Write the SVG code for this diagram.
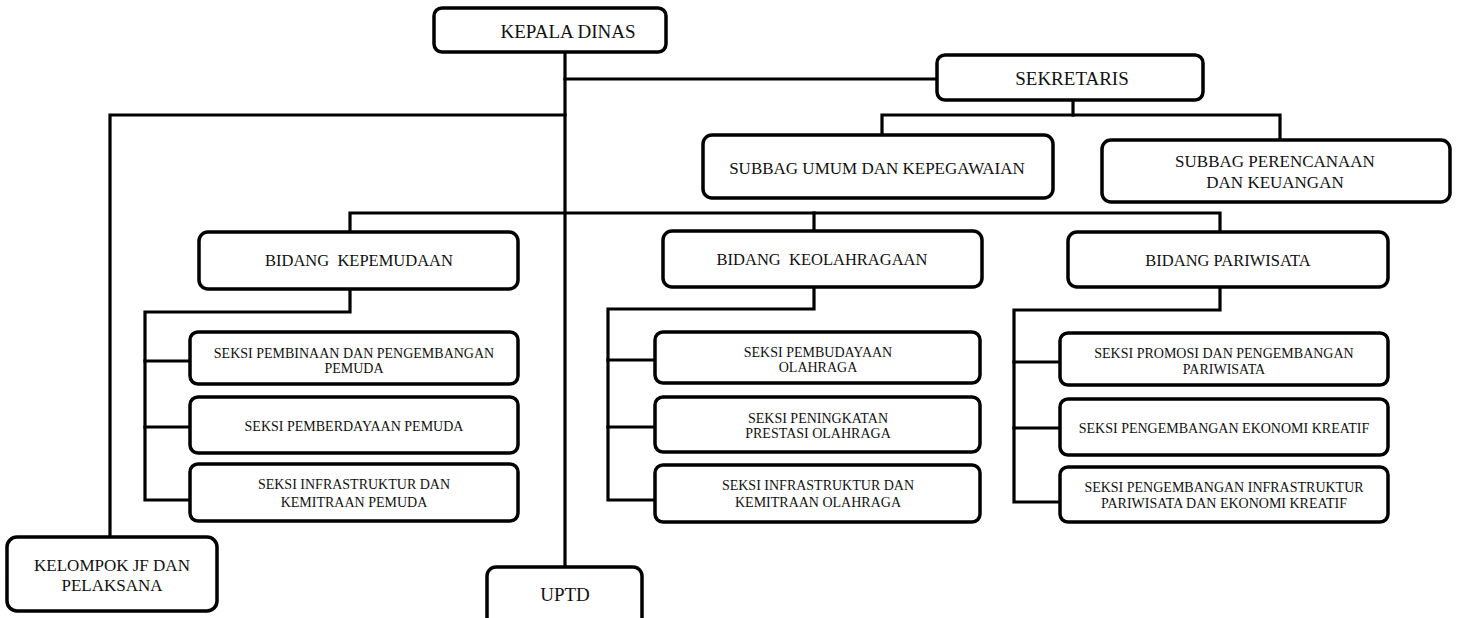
<svg xmlns="http://www.w3.org/2000/svg" width="1460" height="618" viewBox="0 0 1460 618">
<style>
.box{fill:#fff;stroke:#000;stroke-width:3.5}
.ln{fill:none;stroke:#000;stroke-width:3.2;stroke-linejoin:miter;stroke-linecap:square}
text{font-family:"Liberation Serif","Times New Roman",serif;fill:#111;text-anchor:middle}
.t19{font-size:19px}
.t17{font-size:17px}
.t16{font-size:16.5px}
.t14{font-size:14px}
</style>
<rect width="1460" height="618" fill="#fff"/>
<g id="connectors">
<path class="ln" d="M565 52V567"/>
<path class="ln" d="M565 79H937"/>
<path class="ln" d="M565 115H110V537"/>
<path class="ln" d="M1073 101V115"/>
<path class="ln" d="M882 135V115H1280V140"/>
<path class="ln" d="M350 232V213H1220V232"/>
<path class="ln" d="M814 213V231"/>
<path class="ln" d="M350 289V312H145V500H190"/>
<path class="ln" d="M145 361H190M145 427H190"/>
<path class="ln" d="M814 287V309H608V500H655"/>
<path class="ln" d="M608 360H655M608 427H655"/>
<path class="ln" d="M1220 287V310H1014V502H1060"/>
<path class="ln" d="M1014 362H1060M1014 428H1060"/>
</g>
<g id="kepala"><rect class="box" x="434" y="8" width="232" height="44" rx="8"/><text class="t19" x="568" y="38">KEPALA DINAS</text></g>
<g id="sekretaris"><rect class="box" x="937" y="55" width="266" height="45" rx="8"/><text class="t19" x="1072" y="85">SEKRETARIS</text></g>
<g id="subbag-umum"><rect class="box" x="703" y="135" width="350" height="63" rx="9"/><text class="t17" x="877" y="174">SUBBAG UMUM DAN KEPEGAWAIAN</text></g>
<g id="subbag-perencanaan"><rect class="box" x="1102" y="140" width="348" height="62" rx="9"/><text class="t17" x="1275" y="167">SUBBAG PERENCANAAN</text><text class="t17" x="1275" y="188">DAN KEUANGAN</text></g>
<g id="bidang-kepemudaan"><rect class="box" x="199" y="232" width="319" height="57" rx="9"/><text class="t16" x="359" y="266" xml:space="preserve">BIDANG  KEPEMUDAAN</text></g>
<g id="bidang-keolahragaan"><rect class="box" x="663" y="231" width="319" height="56" rx="9"/><text class="t16" x="822" y="265" xml:space="preserve">BIDANG  KEOLAHRAGAAN</text></g>
<g id="bidang-pariwisata"><rect class="box" x="1068" y="232" width="320" height="55" rx="9"/><text class="t16" x="1228" y="266">BIDANG PARIWISATA</text></g>
<g id="seksi-pembinaan"><rect class="box" x="190" y="332" width="328" height="52" rx="8"/><text class="t14" x="354" y="358">SEKSI PEMBINAAN DAN PENGEMBANGAN</text><text class="t14" x="354" y="373">PEMUDA</text></g>
<g id="seksi-pemberdayaan"><rect class="box" x="190" y="397" width="328" height="56" rx="8"/><text class="t14" x="354" y="431">SEKSI PEMBERDAYAAN PEMUDA</text></g>
<g id="seksi-infra-pemuda"><rect class="box" x="190" y="464" width="328" height="57" rx="8"/><text class="t14" x="354" y="489">SEKSI INFRASTRUKTUR DAN</text><text class="t14" x="354" y="507">KEMITRAAN PEMUDA</text></g>
<g id="seksi-pembudayaan"><rect class="box" x="655" y="332" width="325" height="51" rx="8"/><text class="t14" x="818" y="357">SEKSI PEMBUDAYAAN</text><text class="t14" x="818" y="372">OLAHRAGA</text></g>
<g id="seksi-peningkatan"><rect class="box" x="655" y="397" width="325" height="55" rx="8"/><text class="t14" x="818" y="423">SEKSI PENINGKATAN</text><text class="t14" x="818" y="438">PRESTASI OLAHRAGA</text></g>
<g id="seksi-infra-olahraga"><rect class="box" x="655" y="465" width="325" height="57" rx="8"/><text class="t14" x="818" y="490">SEKSI INFRASTRUKTUR DAN</text><text class="t14" x="818" y="507">KEMITRAAN OLAHRAGA</text></g>
<g id="seksi-promosi"><rect class="box" x="1060" y="333" width="328" height="52" rx="8"/><text class="t14" x="1224" y="358">SEKSI PROMOSI DAN PENGEMBANGAN</text><text class="t14" x="1224" y="374">PARIWISATA</text></g>
<g id="seksi-ekonomi"><rect class="box" x="1060" y="399" width="328" height="56" rx="8"/><text class="t14" x="1224" y="433">SEKSI PENGEMBANGAN EKONOMI KREATIF</text></g>
<g id="seksi-infra-pariwisata"><rect class="box" x="1060" y="467" width="328" height="55" rx="8"/><text class="t14" x="1224" y="492">SEKSI PENGEMBANGAN INFRASTRUKTUR</text><text class="t14" x="1224" y="508">PARIWISATA DAN EKONOMI KREATIF</text></g>
<g id="kelompok-jf"><rect class="box" x="7" y="537" width="210" height="74" rx="10"/><text class="t17" x="112" y="571">KELOMPOK JF DAN</text><text class="t17" x="112" y="591">PELAKSANA</text></g>
<g id="uptd"><rect class="box" x="487" y="567" width="155" height="60" rx="9"/><text class="t19" x="565" y="601">UPTD</text></g>
</svg>
